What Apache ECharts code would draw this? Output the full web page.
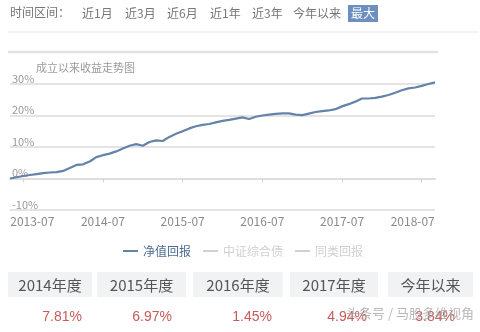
<!DOCTYPE html>
<html>
<head>
<meta charset="utf-8">
<script src="https://cdn.jsdelivr.net/npm/echarts@6/dist/echarts.min.js"></script>
<style>
html,body{margin:0;padding:0;background:#fff;}
#c{width:480px;height:332px;}
</style>
</head>
<body>
<div id="c"></div>
<script>
// ---- data ----
const months = [];
for (let y = 2013; y <= 2018; y++) {
  for (let m = 1; m <= 12; m++) {
    if ((y === 2013 && m < 5) || (y === 2018 && m > 9)) continue;
    months.push(y + '-' + (m < 10 ? '0' + m : '' + m));
  }
}
const navReturn = [
  0.0, 0.4, 0.8, 1.1, 1.4, 1.7, 1.9, 2.0, 2.4, 3.3,
  4.3, 4.5, 5.4, 6.8, 7.4, 7.9, 8.6, 9.5, 10.4, 10.9,
  10.4, 11.6, 12.1, 11.9, 13.2, 14.2, 15.0, 15.9, 16.6, 17.0,
  17.3, 17.8, 18.3, 18.6, 19.0, 19.4, 18.9, 19.6, 20.0, 20.3,
  20.5, 20.7, 20.7, 20.3, 20.1, 20.6, 21.1, 21.4, 21.6, 22.0,
  22.9, 23.6, 24.4, 25.4, 25.4, 25.6, 26.0, 26.5, 27.2, 28.0,
  28.6, 28.9, 29.4, 30.0, 30.5
];
const bondIndex = [];
const peerReturn = [];
const seriesNames = ['净值回报', '中证综合债', '同类回报'];
const tabLabels = ['近1月', '近3月', '近6月', '近1年', '近3年', '今年以来', '最大'];
const yearLabels = ['2014年度', '2015年度', '2016年度', '2017年度', '今年以来'];
const yearReturns = ['7.81%', '6.97%', '1.45%', '4.94%', '3.84%'];
const yTicks = { min: -10, max: 30, interval: 10 };

// ---- layout ----
const FONT = '"Noto Sans CJK SC", "Noto Sans", sans-serif';
const tabX = [82, 125, 167, 210, 252, 293, 351];
const boxX = [8, 97, 193, 290, 388];
const boxW = [84, 89, 90, 88, 85];
const valRight = [82, 172, 272, 367, 455];

const julyIdx = months.map((m, i) => m.endsWith('-07') ? i : -1).filter(i => i >= 0);
const firstJuly = julyIdx[0], lastJuly = julyIdx[julyIdx.length - 1];

const graphic = [];
graphic.push({ type: 'text', left: 10, top: 6, style: { text: '时间区间：', font: '12px ' + FONT, fill: '#777' } });
tabLabels.forEach((t, i) => {
  const last = i === tabLabels.length - 1;
  if (last) {
    graphic.push({ type: 'rect', shape: { x: 348, y: 5, width: 30, height: 17 }, style: { fill: '#6d8fbf' } });
  }
  graphic.push({ type: 'text', x: tabX[i], y: 7, style: { text: t, font: '12px ' + FONT, fill: last ? '#fff' : '#777' } });
});
graphic.push({ type: 'line', shape: { x1: 8, y1: 32, x2: 478, y2: 32 }, style: { stroke: '#eeeeee', lineWidth: 1.5 } });
graphic.push({ type: 'line', shape: { x1: 8, y1: 52, x2: 438, y2: 52 }, style: { stroke: '#e2e2e2', lineWidth: 2.5 } });
yearLabels.forEach((t, i) => {
  graphic.push({ type: 'rect', shape: { x: boxX[i], y: 272, width: boxW[i], height: 25 }, style: { fill: '#f1f2f4' } });
  graphic.push({ type: 'text', x: boxX[i] + boxW[i] / 2, y: 285, style: { text: t, font: '15px ' + FONT, fill: '#555', align: 'center', verticalAlign: 'middle' } });
  graphic.push({ type: 'text', x: valRight[i], y: 317, style: { text: yearReturns[i], font: '14px "Liberation Sans", Arial, sans-serif', fill: '#c85a5a', align: 'right', verticalAlign: 'middle' } });
});
graphic.push({ type: 'text', x: 346, y: 313, z: 100, style: { text: '头条号 / 马股多维视角', font: '13px ' + FONT, fill: 'rgba(160,160,160,0.75)', verticalAlign: 'middle' } });

const chart = echarts.init(document.getElementById('c'), null, { renderer: 'canvas' });
chart.setOption({
  animation: false,
  backgroundColor: '#fff',
  title: {
    text: '成立以来收益走势图', left: 31, top: 57,
    textStyle: { fontSize: 11, fontWeight: 'normal', color: '#9a9a9a', fontFamily: FONT }
  },
  legend: {
    data: seriesNames, left: 118, top: 240, itemGap: 12,
    icon: 'rect', itemWidth: 15, itemHeight: 2,
    selected: { '中证综合债': false, '同类回报': false },
    inactiveColor: '#d0d0d0',
    textStyle: { fontSize: 12, color: '#4d6b94', fontFamily: FONT }
  },
  grid: { left: 10, right: 45, top: 84, bottom: 122, containLabel: false },
  xAxis: {
    type: 'category', data: months, boundaryGap: false,
    axisLine: { lineStyle: { color: '#dedede', width: 2 } },
    axisTick: { interval: (i) => julyIdx.indexOf(i) >= 0, length: 4, lineStyle: { color: '#d5d5d5' } },
    axisLabel: {
      interval: (i) => julyIdx.indexOf(i) >= 0,
      margin: 5, color: '#8a8a8a', fontSize: 12, fontFamily: FONT,
      formatter: (v, i) => i === firstJuly ? '{f|' + v + '}' : (i === lastJuly ? '{l|' + v + '}' : v),
      rich: {
        f: { padding: [0, 0, 0, 18], color: '#8a8a8a', fontSize: 12, fontFamily: FONT },
        l: { padding: [0, 18, 0, 0], color: '#8a8a8a', fontSize: 12, fontFamily: FONT }
      }
    },
    splitLine: { show: false }
  },
  yAxis: {
    type: 'value', min: yTicks.min, max: yTicks.max, interval: yTicks.interval,
    axisLine: { show: false }, axisTick: { show: false },
    axisLabel: {
      inside: true, margin: 2, verticalAlign: 'bottom', align: 'left',
      formatter: '{value}%', color: '#9a9a9a', fontSize: 11, fontFamily: FONT
    },
    splitLine: { lineStyle: { color: '#e4e4e4', width: 2 } }
  },
  series: [
    { name: seriesNames[0], type: 'line', data: navReturn, showSymbol: false, clip: false,
      lineStyle: { color: '#6482aa', width: 2.2 }, itemStyle: { color: '#6482aa' } },
    { name: seriesNames[1], type: 'line', data: bondIndex, showSymbol: false,
      lineStyle: { color: '#d0d0d0' }, itemStyle: { color: '#d0d0d0' } },
    { name: seriesNames[2], type: 'line', data: peerReturn, showSymbol: false,
      lineStyle: { color: '#d0d0d0' }, itemStyle: { color: '#d0d0d0' } }
  ],
  graphic: graphic
});
</script>
</body>
</html>
